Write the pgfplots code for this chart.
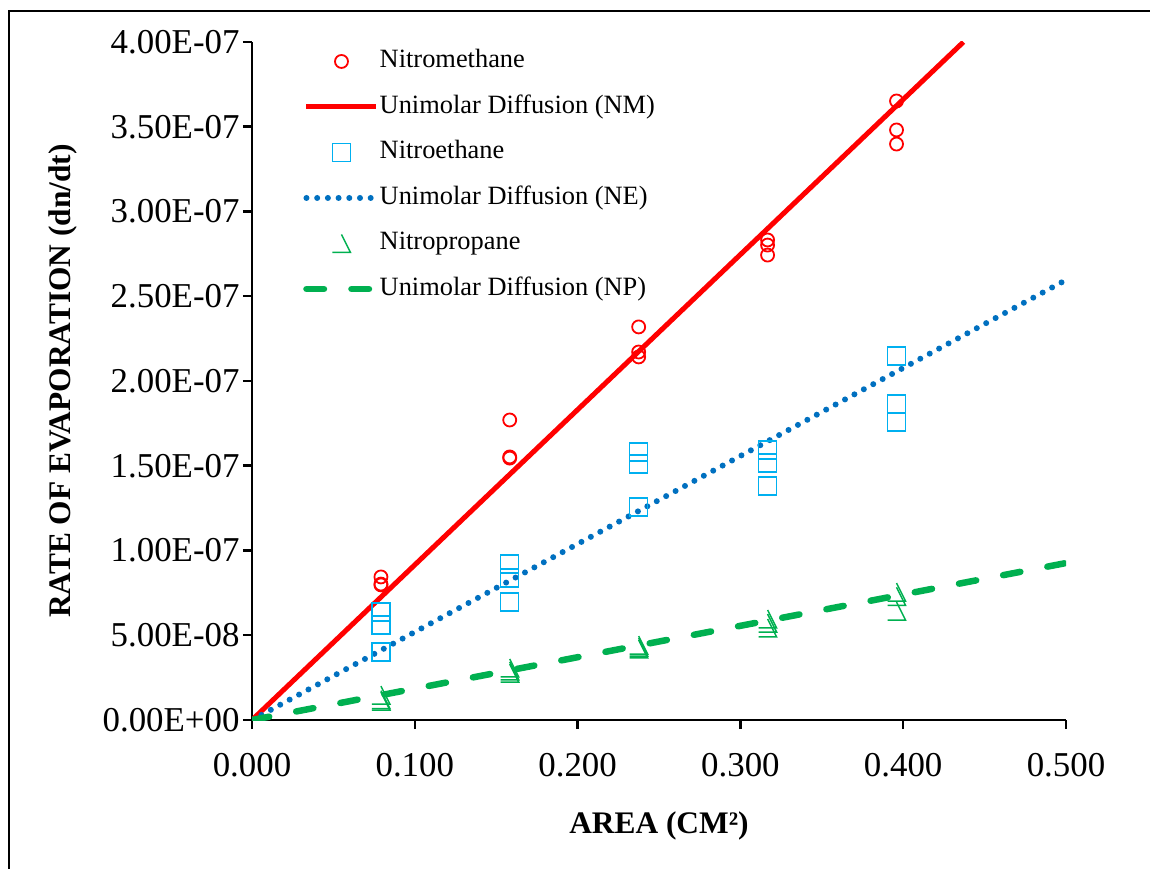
\documentclass[border=0pt]{standalone}
\usepackage{fontspec}
\setmainfont{Liberation Serif}
\usepackage{pgfplots}
\pgfplotsset{compat=1.18}

\definecolor{nmred}{RGB}{255,0,0}
\definecolor{nesq}{RGB}{0,176,240}
\definecolor{neline}{RGB}{0,112,192}
\definecolor{npgreen}{RGB}{0,176,80}

% open triangle drawn as apex -> lower right -> lower left
\pgfdeclareplotmark{halftri}{%
  \pgfpathmoveto{\pgfqpoint{0pt}{\pgfplotmarksize}}%
  \pgfpathlineto{\pgfqpoint{\pgfplotmarksize}{-\pgfplotmarksize}}%
  \pgfpathlineto{\pgfqpoint{-\pgfplotmarksize}{-\pgfplotmarksize}}%
  \pgfusepathqstroke}

\begin{document}
\begin{tikzpicture}
\path[use as bounding box] (0,0) rectangle (1150bp,869bp);
% chart frame
\draw[line width=2bp] (9bp,-5bp) -- (9bp,858bp) -- (1160bp,858bp);
\begin{axis}[
  at={(252bp,149bp)}, anchor=south west,
  scale only axis, width=814bp, height=678bp,
  xmin=0, xmax=0.5, ymin=0, ymax=4e-7,
  axis x line*=bottom, axis y line*=left,
  axis line style={line width=2.5bp, black},
  tick align=outside, major tick length=9bp,
  major tick style={line width=2.5bp, black},
  xtick={0,0.1,0.2,0.3,0.4,0.5},
  xticklabels={0.000,0.100,0.200,0.300,0.400,0.500},
  ytick={0,0.5e-7,1e-7,1.5e-7,2e-7,2.5e-7,3e-7,3.5e-7,4e-7},
  yticklabels={0.00E+00,5.00E-08,1.00E-07,1.50E-07,2.00E-07,2.50E-07,3.00E-07,3.50E-07,4.00E-07},
  scaled x ticks=false, scaled y ticks=false,
  tick label style={font=\fontsize{35}{40}\selectfont},
  xticklabel style={yshift=-21bp},
  label style={font=\bfseries\fontsize{31.5}{36}\selectfont},
  xlabel={AREA (CM²)},
  ylabel={RATE OF EVAPORATION (dn/dt)},
  xlabel style={at={(axis description cs:0.5,-0.156)}, anchor=center},
  ylabel style={at={(axis description cs:-0.232,0.5)}, anchor=center},
  legend image code/.code={\draw[mark repeat=2,mark phase=2,#1] plot coordinates {(0bp,0bp) (35bp,0bp) (70bp,0bp)};},
  legend cell align=left,
  legend style={draw=none, fill=none, at={(axis description cs:0.0627,0.99)}, anchor=north west,
    inner sep=0pt, row sep=20.5bp, column sep=0bp,
    font=\fontsize{26.5}{30}\selectfont,
    nodes={inner sep=0pt, text height=19bp, text depth=6bp}},
]
% Nitromethane
\addplot[only marks, mark=o, mark size=6.5bp, color=nmred, line width=1.8bp] coordinates {
  (0.0792,8.44e-8) (0.0792,7.97e-8) (0.0792,8.02e-8)
  (0.1583,1.770e-7) (0.1583,1.552e-7) (0.1583,1.545e-7)
  (0.2375,2.319e-7) (0.2375,2.171e-7) (0.2375,2.142e-7)
  (0.3167,2.832e-7) (0.3167,2.802e-7) (0.3167,2.743e-7)
  (0.3959,3.652e-7) (0.3959,3.481e-7) (0.3959,3.398e-7)};
\addlegendentry{Nitromethane}
\addplot[nmred, line width=5bp] coordinates {(0,0) (0.437,4e-7)};
\addlegendentry{Unimolar Diffusion (NM)}
% Nitroethane
\addplot[only marks, mark=square, mark size=9bp, color=nesq, line width=1.5bp] coordinates {
  (0.0792,6.37e-8) (0.0792,5.60e-8) (0.0792,4.01e-8)
  (0.1583,9.20e-8) (0.1583,8.38e-8) (0.1583,6.96e-8)
  (0.2375,1.581e-7) (0.2375,1.510e-7) (0.2375,1.257e-7)
  (0.3167,1.593e-7) (0.3167,1.516e-7) (0.3167,1.381e-7)
  (0.3959,2.147e-7) (0.3959,1.864e-7) (0.3959,1.758e-7)};
\addlegendentry{Nitroethane}
\addplot[neline, line width=6bp, line cap=round, dash pattern=on 0bp off 10.7bp] coordinates {(0,0) (0.5,2.596e-7)};
\addlegendentry{Unimolar Diffusion (NE)}
% Nitropropane
\addplot[only marks, mark=halftri, mark size=9bp, color=npgreen, line width=1.5bp] coordinates {
  (0.0792,1.47e-8) (0.0792,1.12e-8) (0.0792,1.20e-8)
  (0.1583,3.07e-8) (0.1583,2.77e-8) (0.1583,2.90e-8)
  (0.2375,4.42e-8) (0.2375,4.19e-8) (0.2375,4.30e-8)
  (0.3167,5.96e-8) (0.3167,5.72e-8) (0.3167,5.43e-8)
  (0.3959,7.55e-8) (0.3959,7.30e-8) (0.3959,6.43e-8)};
\addlegendentry{Nitropropane}
\addplot[npgreen, line width=6.5bp, line cap=round, dash pattern=on 17.5bp off 27.5bp] coordinates {(0,0) (0.5,0.926e-7)};
\addlegendentry{Unimolar Diffusion (NP)}
\end{axis}
\end{tikzpicture}
\end{document}
